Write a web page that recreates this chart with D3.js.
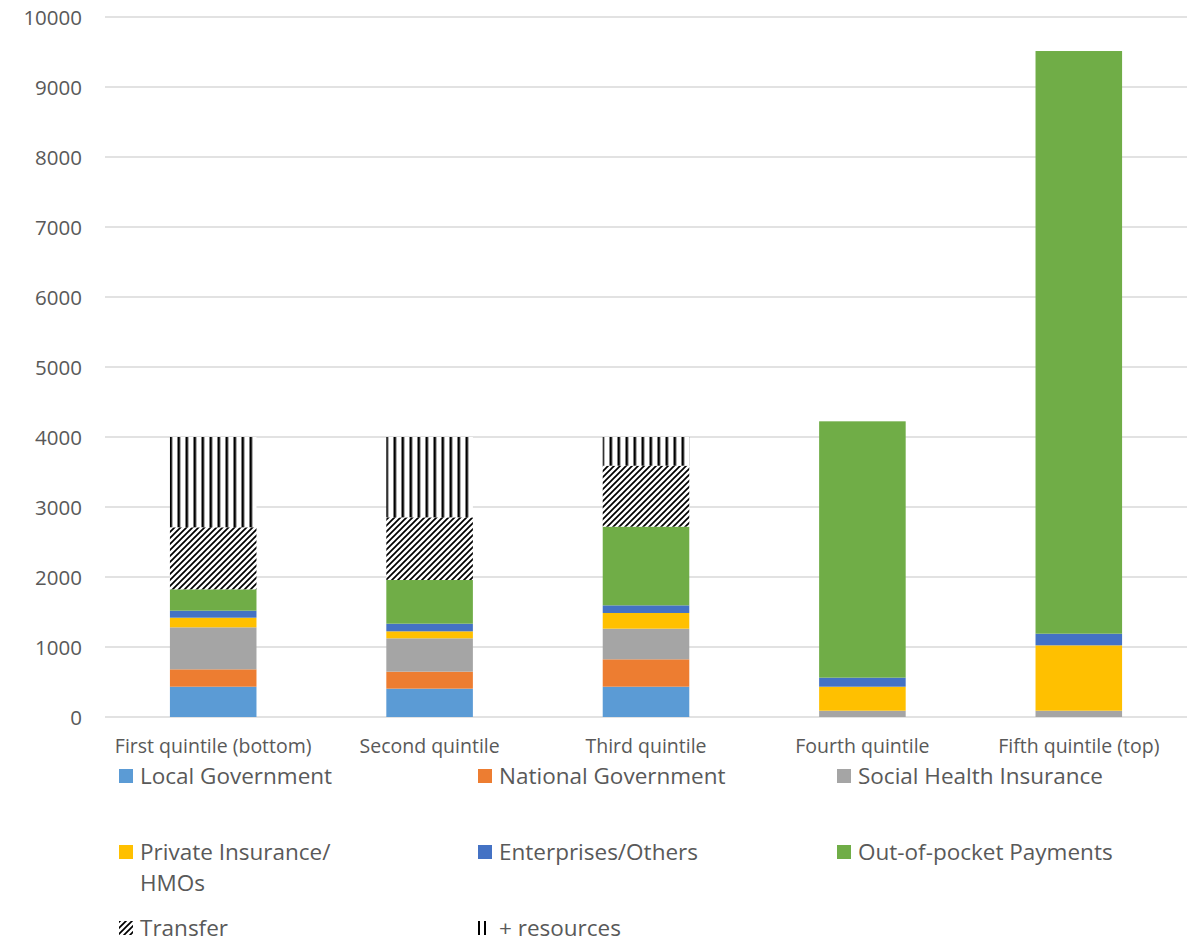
<!DOCTYPE html>
<html><head><meta charset="utf-8">
<script src="https://cdn.jsdelivr.net/npm/d3@7"></script>
<style>body{margin:0;background:#fff}text{font-family:"Open Sans",sans-serif;fill:#595959}</style>
</head><body><svg id="c" width="1196" height="945"></svg>
<script>
const categories = ["First quintile (bottom)","Second quintile","Third quintile","Fourth quintile","Fifth quintile (top)"];
const seriesNames = ["Local Government","National Government","Social Health Insurance","Private Insurance/ HMOs","Enterprises/Others","Out-of-pocket Payments","Transfer","+ resources"];
const localGov   = [433, 405, 433, 0, 0];
const nationalGov= [248, 243, 391, 0, 0];
const socialHI   = [600, 476, 438, 90, 90];
const privateIns = [138, 100, 224, 343, 934];
const enterprises= [100, 109, 109, 129, 166];
const outOfPocket= [305, 624, 1124, 3662, 8324];
const transfer   = [886, 895, 871, 0, 0];
const resources  = [1290, 1148, 410, 0, 0];
const yTicks = [0,1000,2000,3000,4000,5000,6000,7000,8000,9000,10000];

const values = [localGov,nationalGov,socialHI,privateIns,enterprises,outOfPocket,transfer,resources];
const fills = ["#5B9BD5","#ED7D31","#A5A5A5","#FFC000","#4472C4","#70AD47","url(#pTransfer)","url(#pRes)"];

const svg = d3.select("#c");
const defs = svg.append("defs");
const pt = defs.append("pattern").attr("id","pTransfer").attr("patternUnits","userSpaceOnUse").attr("width",6).attr("height",6);
pt.append("rect").attr("width",6).attr("height",6).attr("fill","#fff");
pt.append("path").attr("d","M-1,1 L1,-1 M0,6 L6,0 M5,7 L7,5").attr("stroke","#000").attr("stroke-width",1.7);
const pr = defs.append("pattern").attr("id","pRes").attr("patternUnits","userSpaceOnUse").attr("width",8).attr("height",8).attr("x",1.5);
pr.append("rect").attr("width",8).attr("height",8).attr("fill","#fff");
pr.append("rect").attr("x",0).attr("width",2.6).attr("height",8).attr("fill","#000");

const x = d3.scaleBand().domain(categories).range([105,1187]).paddingInner(0.6).paddingOuter(0.3);
const y = d3.scaleLinear().domain([0,10000]).range([717,17]);

// gridlines
svg.append("g").selectAll("line").data(yTicks).join("line")
  .attr("x1",105).attr("x2",1187).attr("y1",d=>y(d)).attr("y2",d=>y(d))
  .attr("stroke","#d9d9d9").attr("stroke-width",1.3);

// y axis labels
const yAxis = d3.axisLeft(y).tickValues(yTicks).tickSize(0).tickPadding(0).tickFormat(d3.format("d"));
const ya = svg.append("g").attr("transform","translate(82,0)").call(yAxis);
ya.select(".domain").remove();
ya.selectAll("text").attr("font-size",20.5).style("fill","#595959").attr("dy","0.35em");

// stacked bars
const stackData = categories.map((c,i)=>{const o={cat:c}; values.forEach((v,k)=>o[k]=v[i]); return o;});
const stack = d3.stack().keys(values.map((v,k)=>k))(stackData);
svg.append("g").selectAll("g").data(stack).join("g").attr("fill",(d,k)=>fills[k])
  .selectAll("rect").data(d=>d).join("rect")
  .attr("x",d=>x(d.data.cat)).attr("width",x.bandwidth())
  .attr("y",d=>y(d[1])).attr("height",d=>Math.max(0,y(d[0])-y(d[1])));

// x axis labels
const xAxis = d3.axisBottom(x).tickSize(0).tickPadding(0);
const xa = svg.append("g").attr("transform","translate(0,746)").call(xAxis);
xa.select(".domain").remove();
xa.selectAll("text").attr("font-size",19.5).style("fill","#595959").attr("dy","0.35em");

// legend
const legPos = [[119,776],[478,776],[837,776],[119,852],[478,852],[837,852],[119,928],[478,928]];
const lg = svg.append("g");
seriesNames.forEach((name,k)=>{
  const [lx,ly] = legPos[k];
  const g = lg.append("g").attr("transform",`translate(${lx},${ly})`);
  if(k<7){
    g.append("rect").attr("x",0).attr("y",-7).attr("width",14).attr("height",14).attr("fill",fills[k]);
  } else {
    g.append("rect").attr("x",0).attr("y",-7).attr("width",2).attr("height",14).attr("fill","#000");
    g.append("rect").attr("x",6).attr("y",-7).attr("width",2).attr("height",14).attr("fill","#000");
  }
  const t = g.append("text").attr("x",21).attr("y",0).attr("dy","0.35em").attr("font-size",22.5);
  if(k===3){
    t.append("tspan").attr("x",21).text("Private Insurance/");
    t.append("tspan").attr("x",21).attr("dy","1.38em").text("HMOs");
  } else t.text(name);
});
</script></body></html>
